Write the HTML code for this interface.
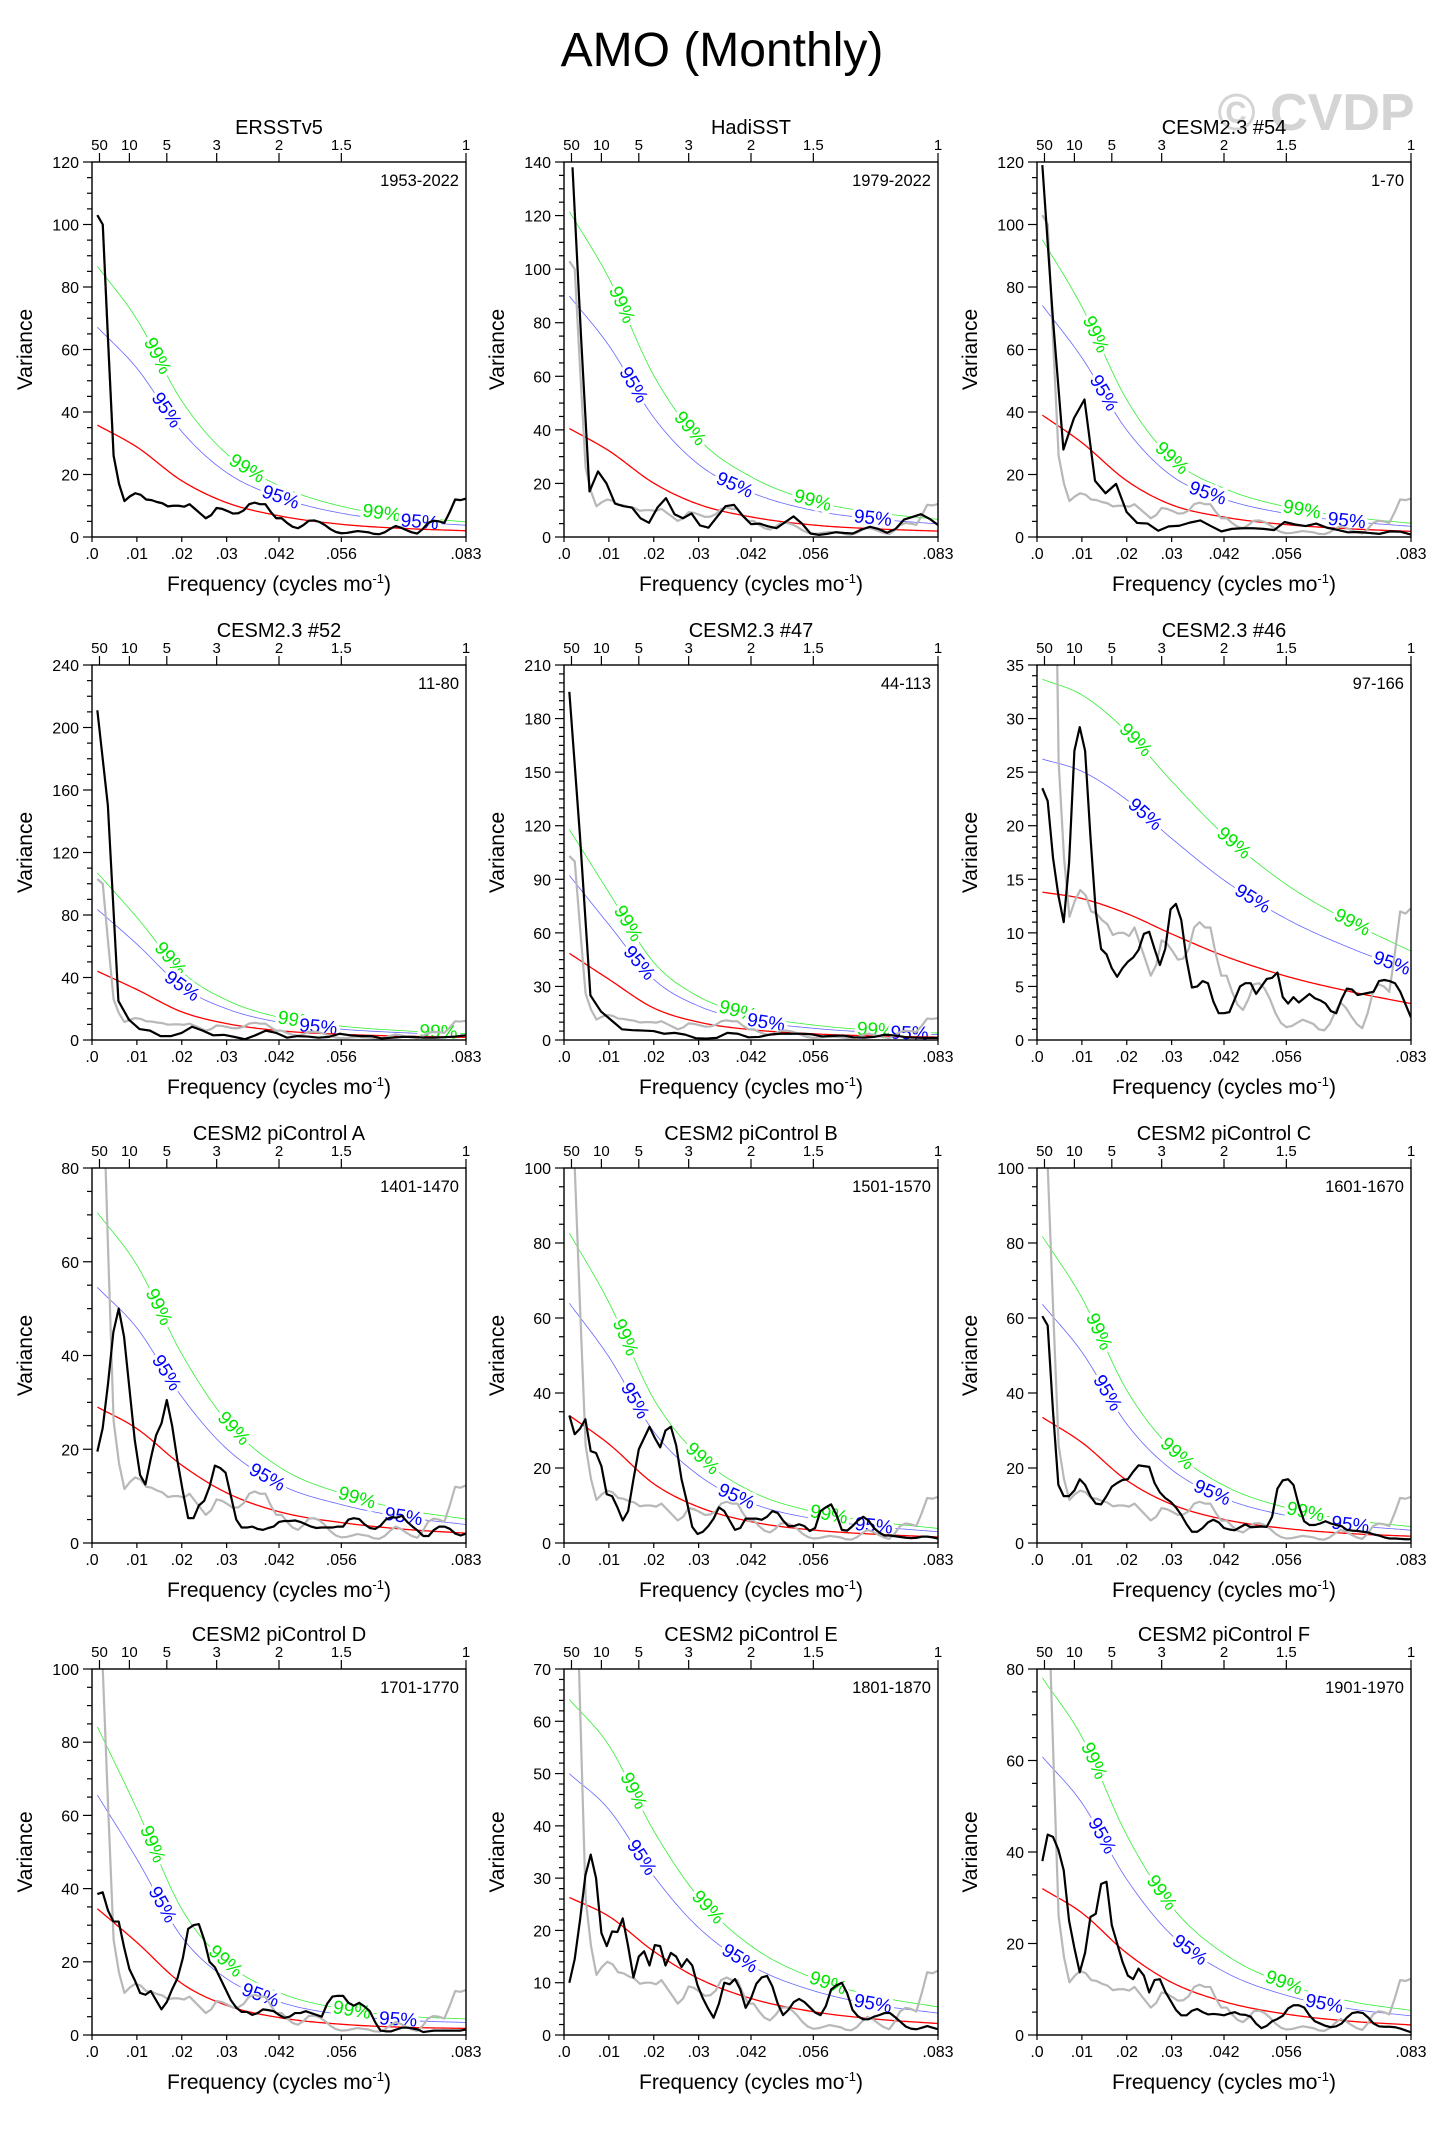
<!DOCTYPE html>
<html><head><meta charset="utf-8"><title>AMO (Monthly)</title>
<style>
html,body{margin:0;padding:0;background:#fff;}
svg{display:block;font-family:"Liberation Sans",Arial,sans-serif;}
</style></head>
<body>
<svg id="fig" xmlns="http://www.w3.org/2000/svg" width="1439" height="2135" viewBox="0 0 1439 2135">
<rect x="0" y="0" width="1439" height="2135" fill="#fff"/>
<text x="722" y="66" font-size="48" text-anchor="middle" fill="#000">AMO (Monthly)</text>
<text x="1316" y="130" font-size="52" font-weight="bold" text-anchor="middle" fill="#d4d4d4">© CVDP</text>
</svg>
<script>
// ---------- data ----------
const bottomTickFreqs = [0, 0.01, 0.02, 0.03, 0.041667, 0.055556, 0.083333];
const bottomTickLabels = [".0", ".01", ".02", ".03", ".042", ".056", ".083"];
const topTickPeriods = [50, 10, 5, 3, 2, 1.5, 1];
const topTickLabels = ["50", "10", "5", "3", "2", "1.5", "1"];
const redFreqs = [0.0012, 0.01, 0.02, 0.03, 0.042, 0.056, 0.07, 0.0833];

const panelTitles = ["ERSSTv5","HadiSST","CESM2.3 #54","CESM2.3 #52","CESM2.3 #47","CESM2.3 #46","CESM2 piControl A","CESM2 piControl B","CESM2 piControl C","CESM2 piControl D","CESM2 piControl E","CESM2 piControl F"];
const panelYears = ["1953-2022","1979-2022","1-70","11-80","44-113","97-166","1401-1470","1501-1570","1601-1670","1701-1770","1801-1870","1901-1970"];
const panelYMax = [120,140,120,240,210,35,80,100,100,100,70,80];
const panelYStep = [20,20,20,40,30,5,20,20,20,20,10,20];
const panelYMinor = [5,5,5,10,5,1,5,5,5,5,2,5];
const panelFirstFreq = [1/840,1/528,1/840,1/840,1/840,1/840,1/840,1/840,1/840,1/840,1/840,1/840];

const ersstVals = [103,100,62,26,17,11.5,13,14,13.5,12,11.8,11.2,10.8,9.8,10,10,9.7,10.5,9,7.5,6,7,9.3,9,8.3,7.5,7.6,8.5,10.5,11,10.5,10.5,8,6,6,4.5,3.3,2.8,3.8,5.2,5.3,4.8,3.8,2.5,1.6,1.2,1.3,1.6,1.9,1.7,1.5,1.0,0.9,1.5,2.6,3.5,3.0,2.2,1.5,1.1,2.5,4.5,5.2,5,4.5,8,12,11.8,12.3];
const hadisstVals = [138,75,17,24.5,20,12.5,11.5,11,7,5.3,11,14.5,8.5,7,8.8,4.3,3.5,7.5,11.5,12,8,4.8,5,4,3.3,5.5,7.7,5,1.3,0.8,1.2,1.8,1.5,1.3,2.8,3.8,3,1.6,3,6.5,7.5,8.5,6.8,4.5];
const m54Vals = [119,70,28,38,44,18,14,17,8,4.5,4.3,2,3.4,3.6,4.6,5.3,3.5,1.8,2.6,2.8,2.8,2.6,2.2,4.8,4,3.5,4.3,3,2.3,1.5,1.6,1.3,1,1.8,1.7,0.8];
const m52Vals = [211,150,25,13,7,6,2.5,2.5,4.5,8.5,6,3,3.3,2,0.5,3,6,4.5,1.5,2.5,2.2,1.5,2,4,3,2.5,2.5,1,1.5,2,2,1.5,1.5,1.8,2.2,3];
const m47Vals = [195,115,25,16,11,6,5.5,5.3,5,3.5,4,3,1,0.8,1.2,4,3.5,1.5,1.7,3,3.5,3.5,3.5,3.2,2,2.3,2.5,1.5,1.3,1.8,3,2.5,1.5,1.3,1.2,1.2];
const m46Vals = [23.5,22.3,17,13.5,11,16.5,27,29.2,27,19,12,8.5,8,6.7,5.9,6.7,7.3,7.7,8.4,9.9,10.1,8.5,7,8.5,12.2,12.7,11.2,7.5,4.9,5,5.5,5.3,3.6,2.5,2.5,2.6,3.8,5,5.3,5.3,4.3,5,5.7,5.8,6.3,4,3.4,4,3.5,3.9,4.3,3.9,3.7,3.4,2.7,2.5,3.8,4.8,4.7,4.2,4.3,4.4,4.5,5.5,5.6,5.5,5.3,4.5,3.3,2.1];
const pcAVals = [19.5,24.5,34,45,50,44,33,22,14.5,12.5,18,23,25.5,30.5,25,17.5,11,5.3,5.3,8,9,12,16.5,16,15,10,5,3.3,3.3,3.5,3,2.8,3.2,3.5,4.5,4.7,4.7,4.8,4.5,4,3.5,3.2,3.3,3.3,3.3,3.5,3.5,5,5.3,5.1,4,3.2,3,3.7,5,5.5,5.4,5.8,4.5,3.5,2.6,1.5,1.5,2.8,3.5,3.5,3,2,1.6,2];
const pcBVals = [34,29,30.5,33,24.5,24,20.5,13,12.5,9.5,6,8.5,17,25,28,31,28,25.5,30,31,26,17,11,4.3,2.4,3,4.5,6.5,9.5,8.5,6,3.5,4,6.5,6.5,6.5,6.2,7,8.5,8,6,4.5,4.5,5,4.5,3.2,4,8.5,9.5,10.3,7.5,3.5,3.3,4.5,6,7,6,4,2.8,2,2,1.8,1.6,1.4,1.3,1.4,1.7,1.7,1.5,1.2];
const pcCVals = [60.5,58,35,15.5,12.5,12.5,14,17,15.5,12.5,10.5,10.3,12.5,15,16,16.8,17,19,20.7,20.5,20.3,16,13.5,12,11,9.5,7.5,5,3,3,4,5.5,6.2,5.5,4,3.6,3.4,4.2,5,4.2,4.3,4.4,4.3,7,14.5,16.7,17,15.5,10,5.8,4.8,4.8,5.2,5.8,5.2,4.8,4.5,3.5,3.3,3.2,3,2.8,2.3,2,1.5,1.2,1.2,1.1,1,1];
const pcDVals = [38.5,39,34,31,31,24,18,15,11.5,11,12,9.5,7,9,12.5,15.5,21,29,30,30.3,26,20,18.5,15.5,12.5,9.5,7.5,6.3,6.3,5.5,6,7,6.8,6.5,5.5,4.7,5,6,6,6.5,6,5.5,5,8.5,10.5,10.7,10.7,8.8,8,8.8,7.8,6.5,3.5,1.2,1,1,1.5,2,2,1.8,1.5,0.8,1,1.2,1.2,1.2,1.2,1.2,1.2,1.5];
const pcEVals = [10,14.5,22,30.5,34.5,30,19.5,17,19.8,19.7,22.3,17,11,15,16,13.3,17.2,17,13.3,15.7,15,13,14.5,13.3,9.5,7,5,3.3,6,10,9.7,10.7,8.7,5.2,7,9.8,11,11.3,9.3,6,3.8,4.8,6.3,6.9,6.3,5.3,4.3,3.8,5.5,8.7,9.5,10,8,4.8,3.6,3,3,3.5,3.8,4.2,4.2,3.4,2.5,1.6,1.2,1.1,1.4,1.7,1.4,1.1];
const pcFVals = [38,43.8,43.3,40.5,36,25,19,13.7,18,25.8,26.5,33,33.5,24,20,16,13,12.2,14.5,13,9.3,12,12.2,9.5,7.5,5.5,4.3,4.3,5.3,5.7,5,4.5,4.6,4.5,4.3,4.7,5,4.5,4.4,4,2.5,1.5,2,3,3.5,4.2,5.8,6.5,6.5,6,4.3,3,2.5,2,1.7,1.9,2.5,3.8,4.8,5,4.8,3.8,2.5,1.9,1.8,1.8,1.7,1.4,1,0.6];

const redP1 = [35.8,28.8,18,11,6.7,4,2.7,2];
const redP2 = [40.5,32.2,20.1,12.2,7.4,4.4,3,2.2];
const redP3 = [39,30.2,18,10.3,6.3,3.9,2.6,1.8];
const redP4 = [44,32.3,18,10.5,5.9,3.6,2.4,1.7];
const redP5 = [48.5,34,17.9,10,5.7,3.4,2.2,1.6];
const redP6 = [13.8,13.2,11.8,9.9,7.8,5.9,4.5,3.4];
const redP7 = [29,24.4,16.6,10.7,6.6,4.3,2.9,2.1];
const redP8 = [34,26.4,15.8,9.6,5.6,3.4,2.3,1.6];
const redP9 = [33.5,26.8,16.7,10.3,6.2,3.8,2.5,1.8];
const redP10 = [34.5,25.3,14.1,8.1,4.7,2.9,2.1,1.8];
const redP11 = [26.3,22.7,16,10.8,6.9,4.4,3.0,2.2];
const redP12 = [32,26.7,17.9,11.5,7.2,4.5,3.0,2.2];
const conf99Factor = [2.42,3.0,2.44,2.43,2.43,2.44,2.43,2.43,2.44,2.44,2.44,2.44];
const conf95Factor = [1.875,2.22,1.9,1.9,1.9,1.9,1.88,1.88,1.9,1.9,1.9,1.9];
const label99Freqs = [[.0145,.0345,.0645],[.0128,.028,.0554],[.013,.030,.059],[.0174,.0456,.0772],[.0142,.0387,.0695],[.0219,.0438,.0702],[.0148,.0315,.059],[.0136,.0308,.059],[.0137,.0312,.0598],[.0134,.0297,.0579],[.0154,.032,.0588],[.0126,.0277,.055]];
const label95Freqs = [[.0165,.042,.073],[.0154,.038,.0688],[.0148,.038,.069],[.02,.0504],[.0167,.045,.077],[.024,.048,.079],[.0165,.039,.0694],[.0157,.0384,.069],[.0156,.039,.0698],[.0156,.0375,.0682],[.0172,.0391,.0688],[.0144,.034,.064]];

const blackSeries = [ersstVals,hadisstVals,m54Vals,m52Vals,m47Vals,m46Vals,pcAVals,pcBVals,pcCVals,pcDVals,pcEVals,pcFVals];
const redSeries = [redP1,redP2,redP3,redP4,redP5,redP6,redP7,redP8,redP9,redP10,redP11,redP12];

// ---------- layout ----------
const FMAX = 0.083333;
const colLeft = [92, 564, 1037];
const rowTop = [162, 665, 1168, 1669];
const rowH = [375, 375, 375, 366];
const PW = 374;
const NS = "http://www.w3.org/2000/svg";
const svg = document.getElementById('fig');

function mk(tag, attrs, parent) {
  const e = document.createElementNS(NS, tag);
  for (const k in attrs) e.setAttribute(k, attrs[k]);
  (parent || svg).appendChild(e);
  return e;
}
function linspace(a, b, n) { const r = []; for (let i = 0; i < n; i++) r.push(n === 1 ? a : a + (b - a) * i / (n - 1)); return r; }

function monotone(xs, ys) {
  const n = xs.length, d = [], m = [];
  for (let i = 0; i < n - 1; i++) d.push((ys[i + 1] - ys[i]) / (xs[i + 1] - xs[i]));
  m.push(d[0]);
  for (let i = 1; i < n - 1; i++) m.push(d[i - 1] * d[i] <= 0 ? 0 : (d[i - 1] + d[i]) / 2);
  m.push(d[n - 2]);
  for (let i = 0; i < n - 1; i++) {
    if (d[i] === 0) { m[i] = 0; m[i + 1] = 0; continue; }
    const a = m[i] / d[i], b = m[i + 1] / d[i], s = a * a + b * b;
    if (s > 9) { const t = 3 / Math.sqrt(s); m[i] = t * a * d[i]; m[i + 1] = t * b * d[i]; }
  }
  return function (x) {
    let i = 0;
    if (x <= xs[0]) i = 0; else if (x >= xs[n - 1]) i = n - 2;
    else while (x > xs[i + 1]) i++;
    const h = xs[i + 1] - xs[i], t = (x - xs[i]) / h;
    const h00 = 2 * t * t * t - 3 * t * t + 1, h10 = t * t * t - 2 * t * t + t, h01 = -2 * t * t * t + 3 * t * t, h11 = t * t * t - t * t;
    return h00 * ys[i] + h10 * h * m[i] + h01 * ys[i + 1] + h11 * h * m[i + 1];
  };
}

for (let p = 0; p < 12; p++) {
  const col = p % 3, row = Math.floor(p / 3);
  const L = colLeft[col], T = rowTop[row], H = rowH[row], R = L + PW, B = T + H;
  const ymax = panelYMax[p];
  const xs = f => L + f / FMAX * PW;
  const ys = v => B - v / ymax * H;

  const g = mk('g', {});
  
  

  const clipId = 'clip' + p;
  const cp = mk('clipPath', { id: clipId }, g);
  mk('rect', { x: L, y: T, width: PW, height: H }, cp);

  const redF = monotone(redFreqs, redSeries[p]);
  const fs = linspace(redFreqs[0], FMAX, 160);
  const pathFor = (fac) => fs.map((f, i) => (i ? 'L' : 'M') + xs(f).toFixed(2) + ',' + ys(redF(f) * fac).toFixed(2)).join('');

  const gCurve = mk('path', { d: pathFor(conf99Factor[p]), fill: 'none', stroke: '#33ee33', 'stroke-width': 0.8, 'clip-path': 'url(#' + clipId + ')' }, g);
  
  
  const bCurve = mk('path', { d: pathFor(conf95Factor[p]), fill: 'none', stroke: '#6666ff', 'stroke-width': 0.8, 'clip-path': 'url(#' + clipId + ')' }, g);
  
  

  const addLabels = (freqs, fac, txt, color, name) => {
    freqs.forEach(f => {
      const x = xs(f), y = ys(redF(f) * fac);
      const x2 = xs(f + 0.0008), y2 = ys(redF(f + 0.0008) * fac);
      const x1 = xs(f - 0.0008), y1 = ys(redF(f - 0.0008) * fac);
      const ang = Math.atan2(y2 - y1, x2 - x1) * 180 / Math.PI;
      const t = mk('text', { x: 0, y: 0, transform: 'translate(' + x.toFixed(1) + ',' + y.toFixed(1) + ') rotate(' + ang.toFixed(1) + ')', 'font-size': 19, 'text-anchor': 'middle', 'dominant-baseline': 'central', fill: color, stroke: '#fff', 'stroke-width': 7, 'paint-order': 'stroke', 'stroke-linejoin': 'round' }, g);
      t.textContent = txt;
      
      
    });
  };
  addLabels(label99Freqs[p], conf99Factor[p], '99%', '#00e600', 'conf-99-label');
  addLabels(label95Freqs[p], conf95Factor[p], '95%', '#0000ff', 'conf-95-label');

  const redPath = mk('path', { d: pathFor(1), fill: 'none', stroke: '#ff0000', 'stroke-width': 1.3, 'clip-path': 'url(#' + clipId + ')' }, g);
  
  

  const gf = linspace(1 / 840, FMAX, ersstVals.length);
  const grayD = ersstVals.map((v, i) => (i ? 'L' : 'M') + xs(gf[i]).toFixed(2) + ',' + ys(v).toFixed(2)).join('');
  const gray = mk('path', { d: grayD, fill: 'none', stroke: '#b8b8b8', 'stroke-width': 2.2, 'stroke-linejoin': 'round', 'clip-path': 'url(#' + clipId + ')' }, g);
  
  

  const vals = blackSeries[p];
  const bfq = linspace(panelFirstFreq[p], FMAX, vals.length);
  const blkD = vals.map((v, i) => (i ? 'L' : 'M') + xs(bfq[i]).toFixed(2) + ',' + ys(v).toFixed(2)).join('');
  const blk = mk('path', { d: blkD, fill: 'none', stroke: '#000', 'stroke-width': 2.2, 'stroke-linejoin': 'round', 'clip-path': 'url(#' + clipId + ')' }, g);
  
  

  const frame = mk('rect', { x: L, y: T, width: PW, height: H, fill: 'none', stroke: '#000', 'stroke-width': 1.4 }, g);
  
  

  for (let v = 0; v <= ymax + 1e-9; v += panelYMinor[p]) {
    const major = Math.abs(v / panelYStep[p] - Math.round(v / panelYStep[p])) < 1e-6;
    const tk = mk('line', { x1: L - (major ? 9 : 5), x2: L, y1: ys(v), y2: ys(v), stroke: '#000', 'stroke-width': 1.2 }, g);
    
    
    if (major) {
      const tl = mk('text', { x: L - 13, y: ys(v) + 6, 'font-size': 16, 'text-anchor': 'end', fill: '#000' }, g);
      tl.textContent = String(Math.round(v));
      
      
    }
  }
  bottomTickFreqs.forEach((f, i) => {
    const tk = mk('line', { x1: xs(f), x2: xs(f), y1: B, y2: B + 5, stroke: '#000', 'stroke-width': 1.2 }, g);
    
    
    const tl = mk('text', { x: xs(f), y: B + 22, 'font-size': 16, 'text-anchor': 'middle', fill: '#000' }, g);
    tl.textContent = bottomTickLabels[i];
    
    
  });
  topTickPeriods.forEach((per, i) => {
    const f = 1 / (12 * per);
    const tk = mk('line', { x1: xs(f), x2: xs(f), y1: T, y2: T - 9, stroke: '#000', 'stroke-width': 1.2 }, g);
    
    
    const tl = mk('text', { x: xs(f), y: T - 12, 'font-size': 15, 'text-anchor': 'middle', fill: '#000' }, g);
    tl.textContent = topTickLabels[i];
    
    
  });

  const ttl = mk('text', { x: L + PW / 2, y: T - 28, 'font-size': 20, 'text-anchor': 'middle', fill: '#000' }, g);
  ttl.textContent = panelTitles[p];
  
  

  const yr = mk('text', { x: R - 7, y: T + 24, 'font-size': 16.5, 'text-anchor': 'end', fill: '#000' }, g);
  yr.textContent = panelYears[p];
  
  

  const xt = mk('text', { x: L + PW / 2, y: B + 54, 'font-size': 21, 'text-anchor': 'middle', fill: '#000' }, g);
  xt.appendChild(document.createTextNode('Frequency (cycles mo'));
  const sup = mk('tspan', { dy: -8, 'font-size': 13 }, xt);
  sup.textContent = '-1';
  const cl = mk('tspan', { dy: 8 }, xt);
  cl.textContent = ')';
  
  

  const yt = mk('text', { x: 0, y: 0, transform: 'translate(' + (L - 60) + ',' + (T + H / 2) + ') rotate(-90)', 'font-size': 21, 'text-anchor': 'middle', fill: '#000' }, g);
  yt.textContent = 'Variance';
  
  
}
</script>
</body></html>
